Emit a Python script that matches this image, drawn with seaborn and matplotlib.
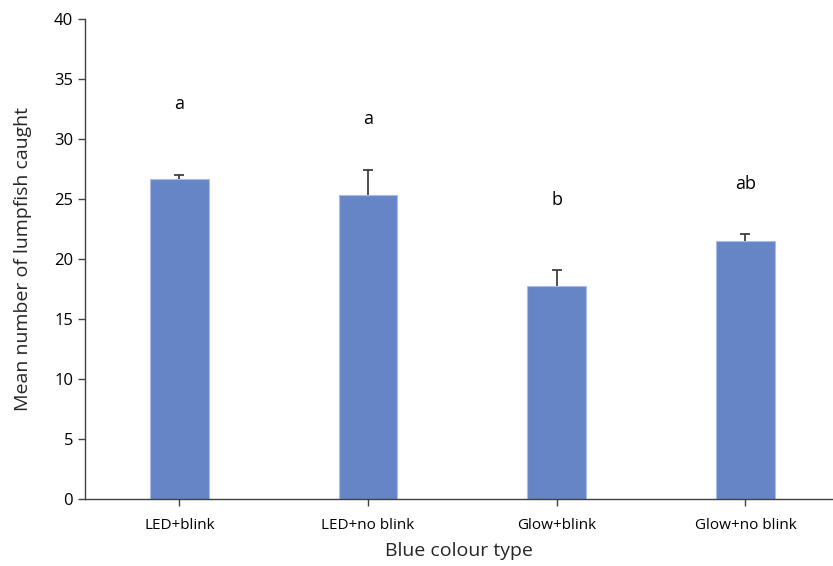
import numpy as np
import pandas as pd
import seaborn as sns
import matplotlib.pyplot as plt

# mean catch per light type
categories = ['LED+blink', 'LED+no blink', 'Glow+blink', 'Glow+no blink']
means = [26.67, 25.36, 17.75, 21.5]
upper_err = [0.33, 2.06, 1.33, 0.56]
letters = ['a', 'a', 'b', 'ab']
letter_y = [32.9, 31.7, 24.9, 26.25]

df = pd.DataFrame({'type': categories, 'mean': means})

sns.set_theme(style='white')
plt.rcParams['font.family'] = ['Open Sans', 'DejaVu Sans']

fig = plt.figure(figsize=(8.33, 5.66), dpi=100)
ax = fig.add_axes([0.102, 0.1184, 0.898, 0.848])

sns.barplot(data=df, x='type', y='mean', color='#6685c7', width=0.31,
            edgecolor='#a9bde6', linewidth=0.8, saturation=1, ax=ax)
eb = ax.errorbar(range(len(categories)), means, yerr=[np.zeros(len(means)), upper_err],
                 fmt='none', ecolor='#404040', elinewidth=1.3, capsize=3.3, capthick=1.3)
# only the upper cap is drawn
eb[1][0].set_visible(False)

for i, (lab, yy) in enumerate(zip(letters, letter_y)):
    ax.text(i, yy, lab, ha='center', va='center', fontsize=13, color='black')

ax.set_ylim(0, 40)
ax.set_xlim(-0.5, 3.464)
ax.set_yticks(range(0, 41, 5))
ax.set_xlabel('Blue colour type', fontsize=14, labelpad=6)
ax.set_ylabel('Mean number of lumpfish caught', fontsize=14, labelpad=16)
ax.tick_params(axis='both', labelsize=12, colors='#404040', labelcolor='black',
               direction='out', length=5, width=1, bottom=True, left=True)
ax.tick_params(axis='x', pad=9, labelsize=11)
for s in ['top', 'right']:
    ax.spines[s].set_visible(False)
for s in ['left', 'bottom']:
    ax.spines[s].set_color('#404040')
    ax.spines[s].set_linewidth(1)

plt.savefig('out.png', dpi=100)
